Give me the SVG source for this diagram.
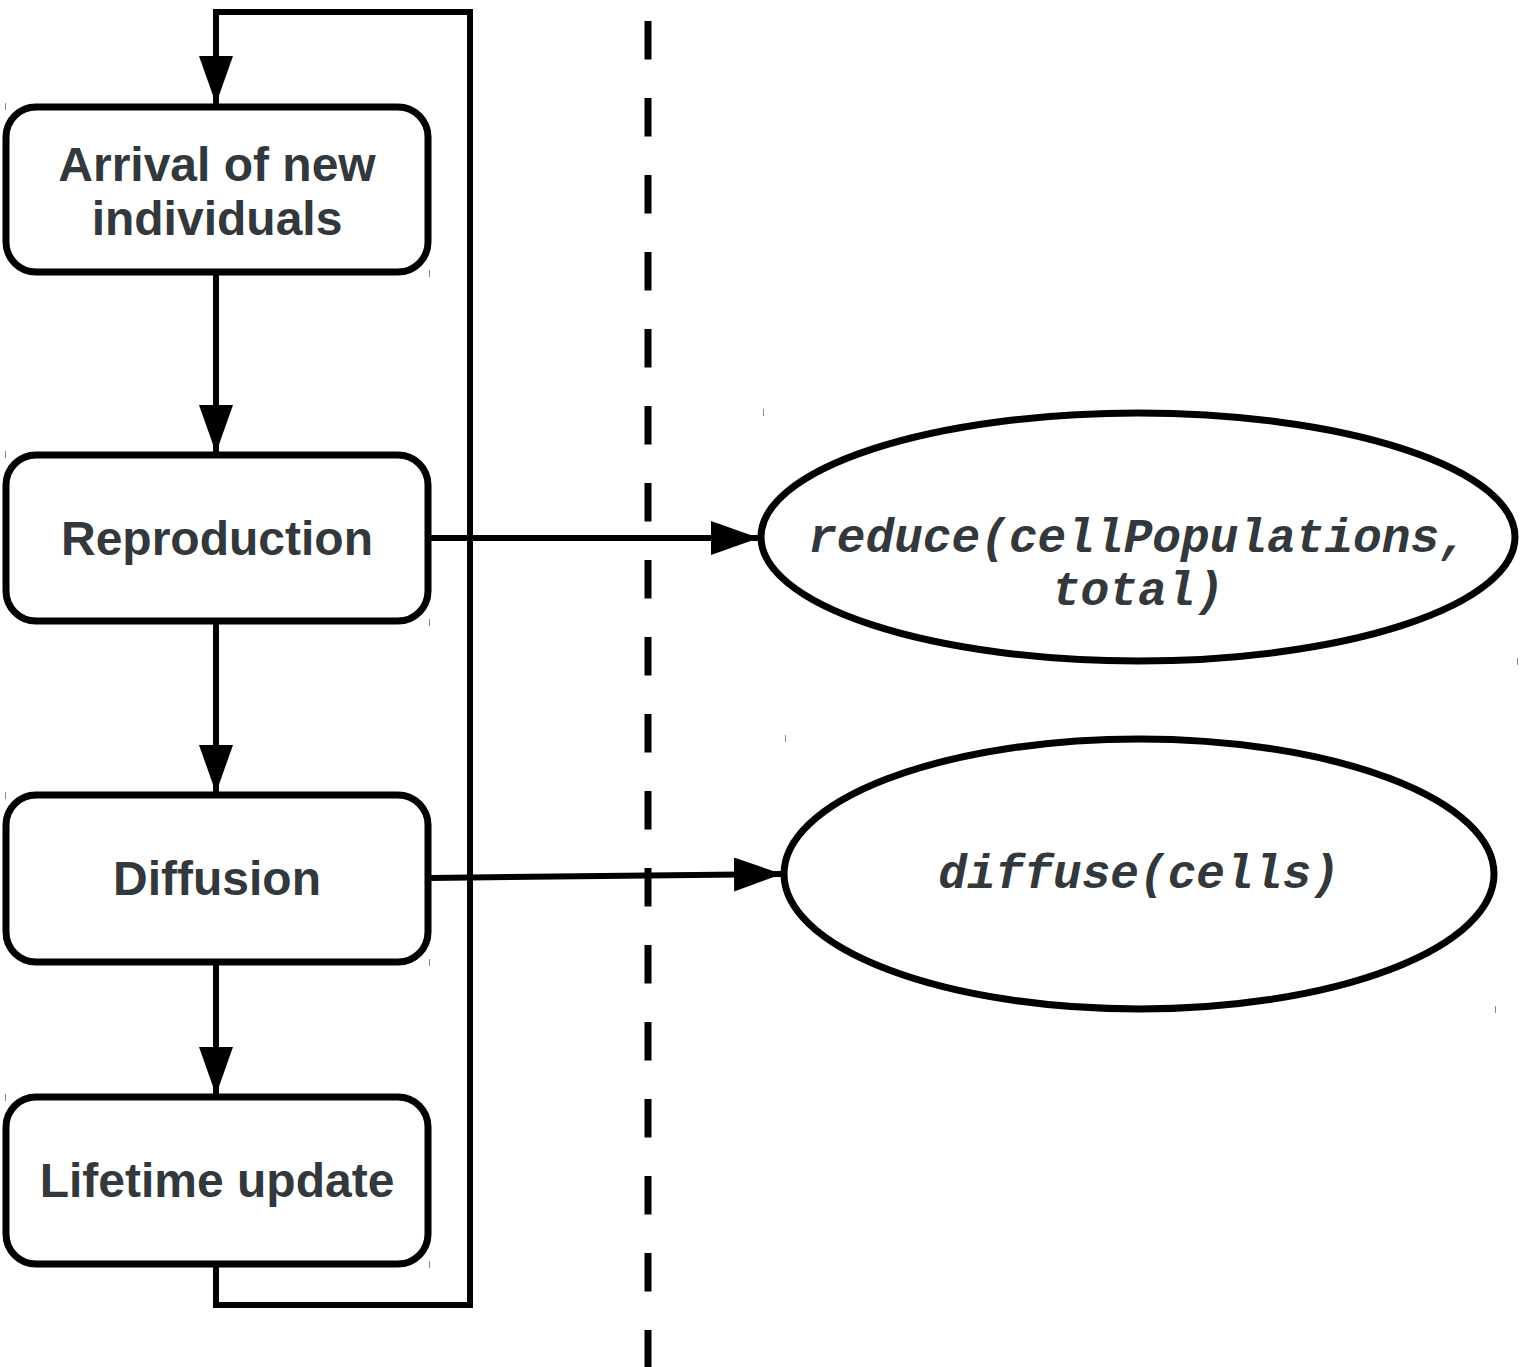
<svg xmlns="http://www.w3.org/2000/svg" width="1523" height="1367" viewBox="0 0 1523 1367">
<style>
.box{fill:#fff;stroke:#000;stroke-width:7}
.ell{fill:#fff;stroke:#000;stroke-width:7}
.lbl{font-family:"Liberation Sans",Arial,sans-serif;font-weight:bold;font-size:48px;fill:#32383b;text-anchor:middle}
.code{font-family:"Liberation Mono","Courier New",monospace;font-weight:bold;font-style:italic;font-size:47.8px;fill:#32383b;text-anchor:middle}
.con{fill:none;stroke:#000;stroke-width:6}
.tick{stroke:#888;stroke-width:1}
</style>
<defs>
<marker id="arr" markerUnits="userSpaceOnUse" markerWidth="50" markerHeight="36" refX="48" refY="17" orient="auto">
<path d="M0,0 L48,17 L0,34 Z" fill="#000"/>
</marker>
</defs>
<rect width="1523" height="1367" fill="#fff"/>
<line x1="648" y1="21" x2="648" y2="1367" stroke="#000" stroke-width="7" stroke-dasharray="38.5 38.5"/>
<g id="connectors">
<polyline class="con" points="216,1264 216,1305 470,1305 470,12 216,12 216,104" marker-end="url(#arr)"/>
<line class="con" x1="216" y1="272" x2="216" y2="453" marker-end="url(#arr)"/>
<line class="con" x1="216" y1="621" x2="216" y2="793" marker-end="url(#arr)"/>
<line class="con" x1="216" y1="962" x2="216" y2="1095" marker-end="url(#arr)"/>
<line class="con" x1="430" y1="538" x2="759" y2="538" marker-end="url(#arr)"/>
<line class="con" x1="430" y1="878" x2="782" y2="874" marker-end="url(#arr)"/>
</g>
<g id="node-arrival">
<rect class="box" x="6" y="107" width="422" height="165" rx="30"/>
<text class="lbl" x="217" y="181">Arrival of new</text>
<text class="lbl" x="217" y="235">individuals</text>
<line class="tick" x1="5.5" y1="103" x2="5.5" y2="110"/>
<line class="tick" x1="429.5" y1="270" x2="429.5" y2="277"/>
</g>
<g id="node-reproduction">
<rect class="box" x="6" y="455" width="422" height="166" rx="30"/>
<text class="lbl" x="217" y="555">Reproduction</text>
<line class="tick" x1="5.5" y1="451" x2="5.5" y2="458"/>
<line class="tick" x1="429.5" y1="619" x2="429.5" y2="626"/>
</g>
<g id="node-diffusion">
<rect class="box" x="6" y="795" width="422" height="167" rx="30"/>
<text class="lbl" x="217" y="895">Diffusion</text>
<line class="tick" x1="5.5" y1="792" x2="5.5" y2="799"/>
<line class="tick" x1="429.5" y1="959" x2="429.5" y2="966"/>
</g>
<g id="node-lifetime">
<rect class="box" x="6" y="1097" width="422" height="167" rx="30"/>
<text class="lbl" x="217" y="1197">Lifetime update</text>
<line class="tick" x1="5.5" y1="1094" x2="5.5" y2="1101"/>
<line class="tick" x1="429.5" y1="1261" x2="429.5" y2="1268"/>
</g>
<g id="node-reduce">
<ellipse class="ell" cx="1138" cy="537" rx="377" ry="124"/>
<text class="code" x="1138" y="552">reduce(cellPopulations,</text>
<text class="code" x="1138" y="605">total)</text>
<line class="tick" x1="763.5" y1="409" x2="763.5" y2="416"/>
<line class="tick" x1="1517.5" y1="658" x2="1517.5" y2="665"/>
</g>
<g id="node-diffuse">
<ellipse class="ell" cx="1139" cy="874" rx="355" ry="135"/>
<text class="code" x="1139" y="888">diffuse(cells)</text>
<line class="tick" x1="785.5" y1="735" x2="785.5" y2="742"/>
<line class="tick" x1="1495.5" y1="1006" x2="1495.5" y2="1013"/>
</g>
</svg>
